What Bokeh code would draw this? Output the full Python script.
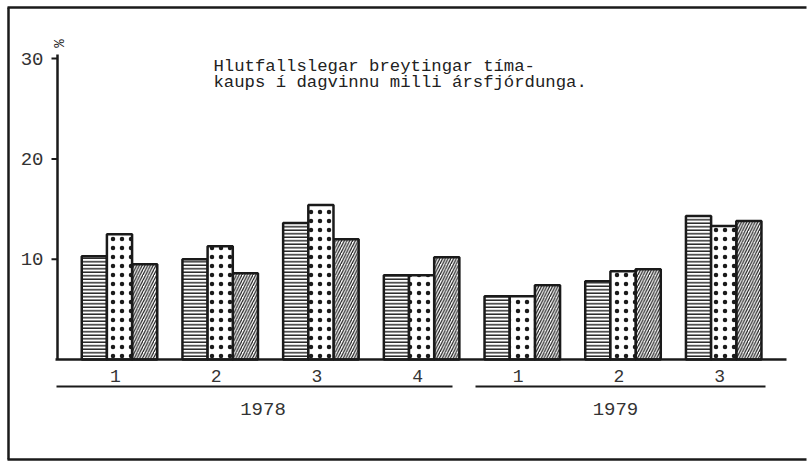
import math
from bokeh.plotting import figure
from bokeh.models import Range1d
from bokeh.core.properties import value
from bokeh.embed import file_html
from bokeh.resources import INLINE

# ---------------- data ----------------
quarters = ["1", "2", "3", "4", "1", "2", "3"]
years = ["1978", "1979"]
year_groups = [[0, 1, 2, 3], [4, 5, 6]]
series_lines = [10.3, 10.0, 13.6, 8.4, 6.3, 7.8, 14.3]   # horizontal hatching
series_dots = [12.5, 11.3, 15.4, 8.4, 6.3, 8.8, 13.3]    # dotted
series_diag = [9.5, 8.6, 12.0, 10.2, 7.4, 9.0, 13.8]     # diagonal hatching
y_ticks = [10, 20, 30]
y_tick_labels = ["10", "20", "30"]
title_lines = ["Hlutfallslegar breytingar tíma-",
               "kaups í dagvinnu milli ársfjórdunga."]
unit_label = "%"

# ---------------- layout ----------------
W, H = 807, 461
ORG = 0          # page offset of the canvas
PX_X = 100.7     # pixels per group
PX_Y = 10.03     # pixels per percent
X0 = -(119 - ORG) / PX_X
X1 = X0 + W / PX_X
Y1 = (359 - ORG) / PX_Y
Y0 = Y1 - H / PX_Y


def xp(page_x):
    return X0 + (page_x - ORG) / PX_X


def yp(page_y):
    return Y1 - (page_y - ORG) / PX_Y


MONO = value("Liberation Mono")
INK = "#1a1a1a"

p = figure(width=W, height=H, x_range=Range1d(X0, X1), y_range=Range1d(Y0, Y1),
           x_axis_type=None, y_axis_type=None, toolbar_location=None,
           output_backend="svg", min_border=0)
p.outline_line_color = None
p.background_fill_color = "white"
p.border_fill_color = "white"

n = len(quarters)
bw = 0.25
idx = list(range(n))

common = dict(width=bw, bottom=0, fill_color="white", line_color=INK,
              line_width=2.5, hatch_color=INK)
p.vbar(x=[i - bw for i in idx], top=series_lines, hatch_pattern="horizontal_line",
       hatch_scale=3.5, hatch_weight=1.4, **common)
p.vbar(x=[i + bw for i in idx], top=series_diag, hatch_pattern="right_diagonal_line",
       hatch_scale=5.5, hatch_weight=1.2, **common)
p.vbar(x=idx, top=series_dots, hatch_pattern="dot",
       hatch_scale=9, hatch_weight=0.7, **common)

# baseline
p.segment(x0=[xp(55)], y0=[0], x1=[xp(786)], y1=[0], line_color=INK, line_width=2.5)

# y axis
p.segment(x0=[xp(57)], y0=[0], x1=[xp(57)], y1=[yp(54)], line_color=INK, line_width=2.5)
p.segment(x0=[xp(51)] * len(y_ticks), y0=y_ticks, x1=[xp(57)] * len(y_ticks), y1=y_ticks,
          line_color=INK, line_width=2)
p.text(x=[xp(43)] * len(y_ticks), y=y_ticks, text=y_tick_labels, text_align="right",
       text_baseline="middle", text_font=MONO, text_font_size="19px", text_color="#333333")
p.text(x=[xp(57)], y=[yp(43)], text=[unit_label], text_align="center",
       text_baseline="middle", angle=-math.pi / 2, text_font=MONO,
       text_font_size="14px", text_color=INK)

# quarter labels
p.text(x=[i - 0.04 for i in idx], y=[yp(375)] * n, text=quarters, text_align="center",
       text_baseline="middle", text_font=MONO, text_font_size="18px", text_color="#333333")

# year lines and labels
year_line_px = [(56, 452), (475, 765)]
for (a, b) in year_line_px:
    p.segment(x0=[xp(a)], y0=[yp(386)], x1=[xp(b)], y1=[yp(386)], line_color=INK, line_width=2)
p.text(x=[sum(g) / len(g) - 0.075 for g in year_groups], y=[yp(408)] * len(years), text=years,
       text_align="center", text_baseline="middle", text_font=MONO, text_font_size="19px",
       text_color="#333333")

# title
p.text(x=[xp(213)] * 2, y=[yp(66), yp(82)], text=title_lines, text_align="left",
       text_baseline="middle", text_font=MONO, text_font_size="17.3px", text_color="#222222")

# frame (top, left, bottom)
p.segment(x0=[xp(7), xp(8), xp(7)], y0=[yp(7), yp(7), yp(459)],
          x1=[xp(806), xp(8), xp(806)], y1=[yp(7), yp(459), yp(459)],
          line_color=INK, line_width=2.5)

open("out.html", "w").write(file_html(p, INLINE))
